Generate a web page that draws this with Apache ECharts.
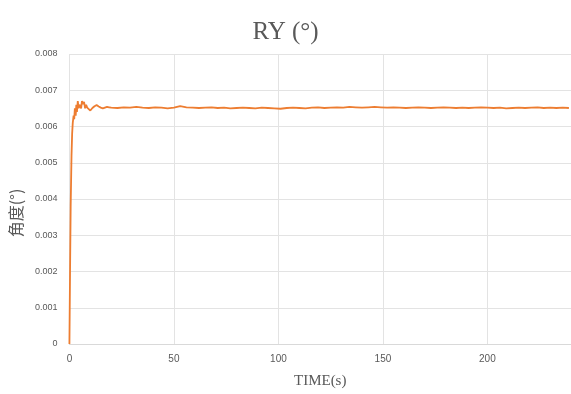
<!DOCTYPE html>
<html>
<head>
<meta charset="utf-8">
<script src="https://cdn.jsdelivr.net/npm/echarts@6/dist/echarts.min.js"></script>
<style>html,body{margin:0;padding:0;background:#fff;}#c{width:571px;height:394px;}</style>
</head>
<body>
<div id="c"></div>
<script>
const titleText = "RY (°)";
const xName = "TIME(s)";
const yName = "角度(°)";
const xTicks = [0, 50, 100, 150, 200];
const yTicks = [0, 0.001, 0.002, 0.003, 0.004, 0.005, 0.006, 0.007, 0.008];

const times = [
  0, 0.3, 0.6, 1, 1.3, 1.6, 2, 2.3, 2.6, 3, 3.3, 3.6, 4, 4.4, 4.8, 5.2, 5.6, 6, 6.5, 7, 7.5, 8, 8.5, 9, 10,
  11, 12, 13, 14, 15, 16, 17, 18, 19, 20,
  23, 26, 29, 32, 35, 38, 41, 44, 47, 50, 53, 56, 59, 62, 65, 68, 71, 74, 77, 80,
  83, 86, 89, 92, 95, 98, 101, 104, 107, 110, 113, 116, 119, 122, 125, 128, 131, 134, 137, 140,
  143, 146, 149, 152, 155, 158, 161, 164, 167, 170, 173, 176, 179, 182, 185, 188, 191, 194, 197, 200,
  203, 206, 209, 212, 215, 218, 221, 224, 227, 230, 233, 236, 239
];
const ryValues = [
  0, 0.0020, 0.0038, 0.0052, 0.0058, 0.0061, 0.0063, 0.0062, 0.0065, 0.0063, 0.0066, 0.0064, 0.0067, 0.0065, 0.0066, 0.00662, 0.0065, 0.0067, 0.00662, 0.00668, 0.0065, 0.0066, 0.00652, 0.00647, 0.00644,
  0.00651, 0.00656, 0.00659, 0.00655, 0.00652, 0.00650, 0.00652, 0.00654, 0.00653, 0.00652,
  0.00651, 0.00653, 0.00652, 0.00654, 0.00652, 0.00651, 0.00653, 0.00652, 0.00650, 0.00652, 0.00656, 0.00653, 0.00652, 0.00651, 0.00652, 0.00653, 0.00651, 0.00652, 0.00650, 0.00651,
  0.00652, 0.00651, 0.00650, 0.00652, 0.00651, 0.00650, 0.00649, 0.00651, 0.00652, 0.00651, 0.00650, 0.00652, 0.00653, 0.00651, 0.00652, 0.00653, 0.00652, 0.00654, 0.00653, 0.00652,
  0.00653, 0.00654, 0.00653, 0.00652, 0.00653, 0.00652, 0.00651, 0.00652, 0.00653, 0.00652, 0.00651, 0.00652, 0.00653, 0.00652, 0.00651, 0.00652, 0.00651, 0.00652, 0.00653, 0.00652,
  0.00651, 0.00652, 0.00650, 0.00651, 0.00652, 0.00651, 0.00652, 0.00653, 0.00651, 0.00652, 0.00651, 0.00652, 0.00651
];

const chart = echarts.init(document.getElementById('c'), null, {renderer: 'canvas'});
chart.setOption({
  animation: false,
  backgroundColor: '#fff',
  title: {
    text: titleText, left: 'center', top: 15,
    textStyle: {fontFamily: 'Liberation Serif', fontSize: 25, fontWeight: 'normal', color: '#595959'}
  },
  grid: {left: 67, right: 0, top: 54, bottom: 50},
  xAxis: {
    type: 'value', min: 0, max: 240, interval: 50,
    name: xName, nameLocation: 'middle', nameGap: 30,
    nameTextStyle: {fontFamily: 'Liberation Serif', fontSize: 15, color: '#595959'},
    axisLine: {show: true, lineStyle: {color: '#d9d9d9', width: 1}},
    axisTick: {show: false},
    axisLabel: {color: '#595959', fontFamily: 'Liberation Sans', fontSize: 10, margin: 10, showMaxLabel: false},
    splitLine: {show: true, lineStyle: {color: '#e3e3e3', width: 1}}
  },
  yAxis: {
    type: 'value', min: 0, max: 0.008, interval: 0.001,
    name: yName, nameLocation: 'middle', nameGap: 44, nameRotate: 90,
    nameTextStyle: {fontFamily: 'Noto Sans CJK SC', fontSize: 16, color: '#595959', padding: [0, 0, 0, -28]},
    axisLine: {show: false},
    axisTick: {show: false},
    axisLabel: {color: '#595959', fontFamily: 'Liberation Sans', fontSize: 9, margin: 12,
      formatter: function (v) { return yTicks.indexOf(+v.toFixed(3)) >= 0 ? String(+v.toFixed(3)) : ''; }},
    splitLine: {show: true, lineStyle: {color: '#e3e3e3', width: 1}}
  },
  series: [{
    type: 'line', showSymbol: false, symbol: 'none',
    data: times.map((t, i) => [t, ryValues[i]]),
    lineStyle: {color: '#ED7D31', width: 1.8},
    itemStyle: {color: '#ED7D31'}
  }]
});
</script>
</body>
</html>
